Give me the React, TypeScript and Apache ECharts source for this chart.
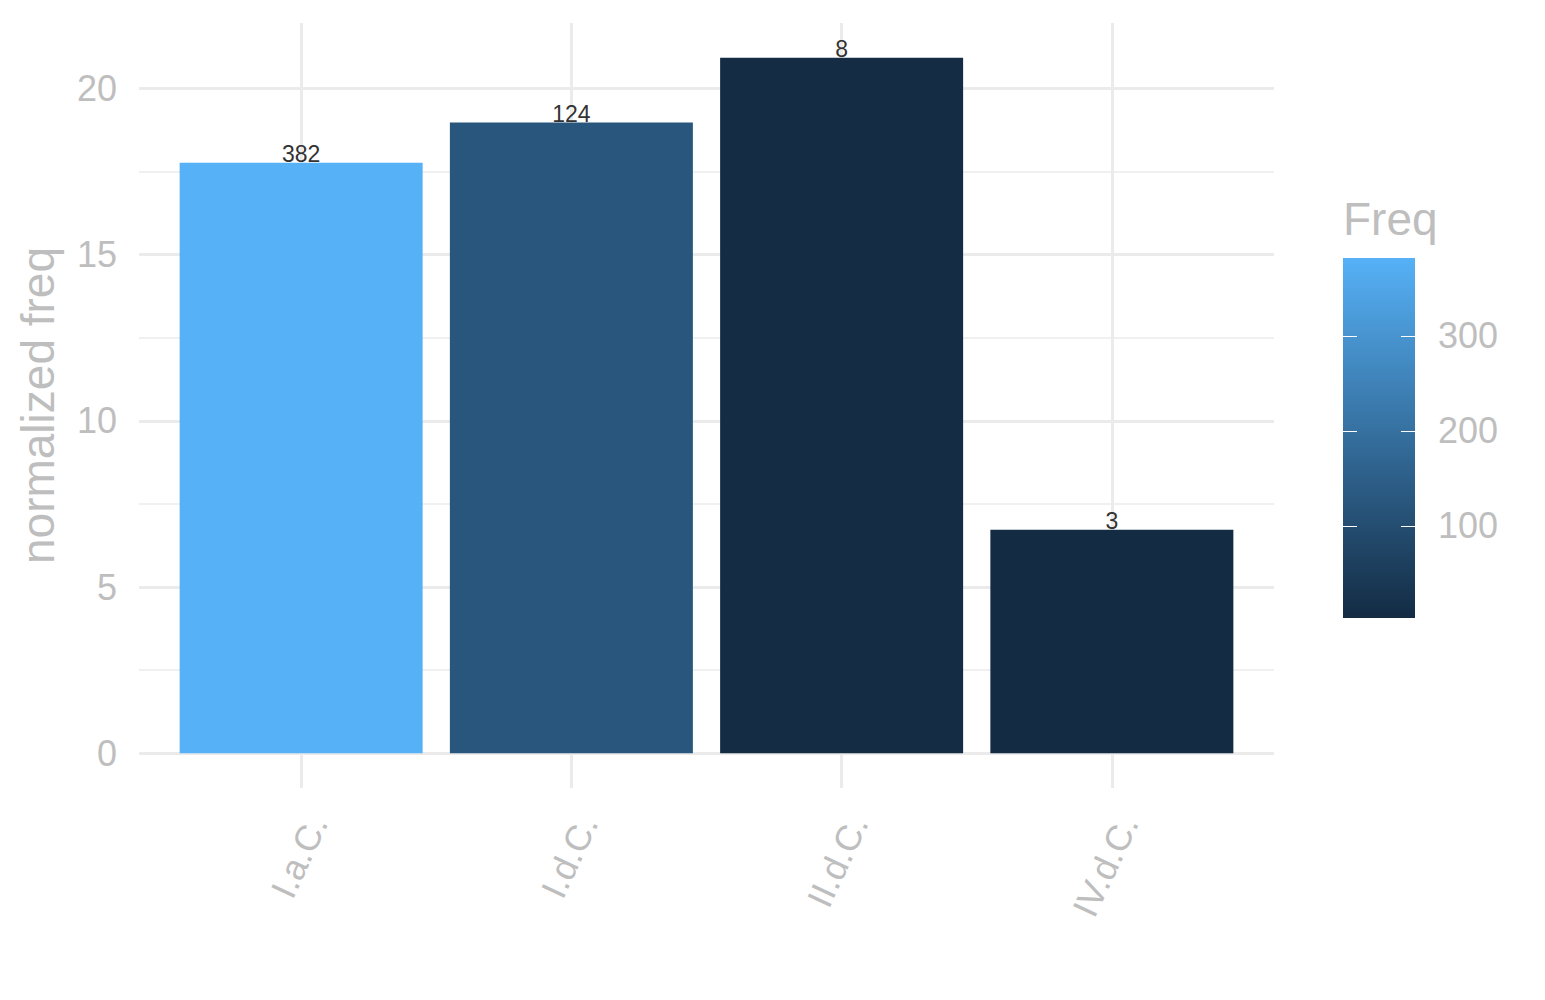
import { FC, useEffect, useRef } from "react";
import * as echarts from "echarts";

// 数据
const categories = ["I.a.C.", "I.d.C.", "II.d.C.", "IV.d.C."];
const normFreq = [17.76, 18.97, 20.92, 6.72];
const freq = [382, 124, 8, 3];
const yTicks = [0, 5, 10, 15, 20];
const yMinorTicks = [2.5, 7.5, 12.5, 17.5];
const freqTicks = [100, 200, 300];

const GREY = "#BEBEBE";
const GRID = "#EBEBEB";
const LOW = "#132B43";
const HIGH = "#56B1F7";
const FONT = "Liberation Sans, Arial, sans-serif";

const App: FC = () => {
    const chartRef = useRef<HTMLDivElement>(null);

    useEffect(() => {
        document.body.style.margin = "0";
        if (!chartRef.current) return;
        const chart = echarts.init(chartRef.current, undefined, { renderer: "svg" });

        // ggplot 风格的 5% 扩展
        const yMax = Math.max(...normFreq);
        const fMin = Math.min(...freq);
        const fMax = Math.max(...freq);
        const xPositions = categories.map((_, i) => i + 1);

        const option = {
            animation: false,
            backgroundColor: "#fff",
            textStyle: { fontFamily: FONT },
            visualMap: {
                show: false,
                type: "continuous",
                seriesIndex: 0,
                dimension: 2,
                min: fMin,
                max: fMax,
                inRange: { color: [LOW, HIGH] },
            },
            grid: [
                { left: 139, right: 271, top: 23, bottom: 212 },
                { left: 1343, top: 258, width: 72, height: 360 },
            ],
            xAxis: [
                {
                    type: "value",
                    gridIndex: 0,
                    min: 0.4,
                    max: 4.6,
                    axisLine: { show: false, onZero: false },
                    axisTick: { show: false, customValues: xPositions },
                    axisLabel: {
                        customValues: xPositions,
                        formatter: (v: number) => categories[Math.round(v) - 1] ?? "",
                        rotate: 65,
                        verticalAlign: "top",
                        color: GREY,
                        fontSize: 36,
                        margin: 22,
                        fontFamily: FONT,
                    },
                    splitLine: { show: true, lineStyle: { color: GRID, width: 3 } },
                },
                {
                    type: "category",
                    gridIndex: 1,
                    data: ["Freq"],
                    show: false,
                },
            ],
            yAxis: [
                {
                    type: "value",
                    gridIndex: 0,
                    min: -0.05 * yMax,
                    max: 1.05 * yMax,
                    name: "normalized freq",
                    nameLocation: "middle",
                    nameRotate: 90,
                    nameGap: 78,
                    nameTextStyle: { color: GREY, fontSize: 46, fontFamily: FONT },
                    axisLine: { show: false, onZero: false },
                    axisTick: { show: false, customValues: yTicks },
                    axisLabel: {
                        customValues: yTicks,
                        color: GREY,
                        fontSize: 36,
                        margin: 22,
                        fontFamily: FONT,
                    },
                    splitLine: { show: true, lineStyle: { color: GRID, width: 3 } },
                },
                {
                    type: "value",
                    gridIndex: 0,
                    min: -0.05 * yMax,
                    max: 1.05 * yMax,
                    position: "left",
                    axisLine: { show: false, onZero: false },
                    axisTick: { show: false, customValues: yMinorTicks },
                    axisLabel: { show: false, customValues: yMinorTicks },
                    splitLine: { show: true, lineStyle: { color: GRID, width: 1.5 } },
                },
                {
                    type: "value",
                    gridIndex: 1,
                    min: fMin,
                    max: fMax,
                    position: "left",
                    z: 10,
                    name: "Freq",
                    nameLocation: "end",
                    nameGap: 16,
                    nameTextStyle: {
                        color: GREY,
                        fontSize: 46,
                        align: "left",
                        verticalAlign: "bottom",
                        fontFamily: FONT,
                    },
                    axisLine: { show: false },
                    axisTick: {
                        show: true,
                        inside: true,
                        length: 14,
                        customValues: freqTicks,
                        lineStyle: { color: "#fff", width: 1 },
                    },
                    axisLabel: { show: false, customValues: freqTicks },
                    splitLine: { show: false },
                },
                {
                    type: "value",
                    gridIndex: 1,
                    min: fMin,
                    max: fMax,
                    position: "right",
                    z: 10,
                    axisLine: { show: false },
                    axisTick: {
                        show: true,
                        inside: true,
                        length: 14,
                        customValues: freqTicks,
                        lineStyle: { color: "#fff", width: 1 },
                    },
                    axisLabel: {
                        customValues: freqTicks,
                        color: GREY,
                        fontSize: 36,
                        margin: 23,
                        fontFamily: FONT,
                    },
                    splitLine: { show: false },
                },
            ],
            series: [
                {
                    type: "bar",
                    xAxisIndex: 0,
                    yAxisIndex: 0,
                    barWidth: 243,
                    data: normFreq.map((v, i) => [xPositions[i], v, freq[i]]),
                    label: {
                        show: true,
                        position: "top",
                        distance: -3,
                        color: "#333",
                        fontSize: 23,
                        fontFamily: FONT,
                        formatter: (p: any) => String(p.value[2]),
                    },
                },
                // 图例色条：透明底座 + 渐变
                {
                    type: "bar",
                    xAxisIndex: 1,
                    yAxisIndex: 2,
                    stack: "legend",
                    barWidth: "100%",
                    silent: true,
                    itemStyle: { color: "transparent" },
                    data: [fMin],
                },
                {
                    type: "bar",
                    xAxisIndex: 1,
                    yAxisIndex: 2,
                    stack: "legend",
                    barWidth: "100%",
                    silent: true,
                    itemStyle: {
                        color: new echarts.graphic.LinearGradient(0, 0, 0, 1, [
                            { offset: 0, color: HIGH },
                            { offset: 1, color: LOW },
                        ]),
                    },
                    data: [fMax - fMin],
                },
            ],
        };

        chart.setOption(option);
        return () => {
            chart.dispose();
        };
    }, []);

    return <div ref={chartRef} style={{ width: 1545, height: 1000 }} />;
};

export default App;
